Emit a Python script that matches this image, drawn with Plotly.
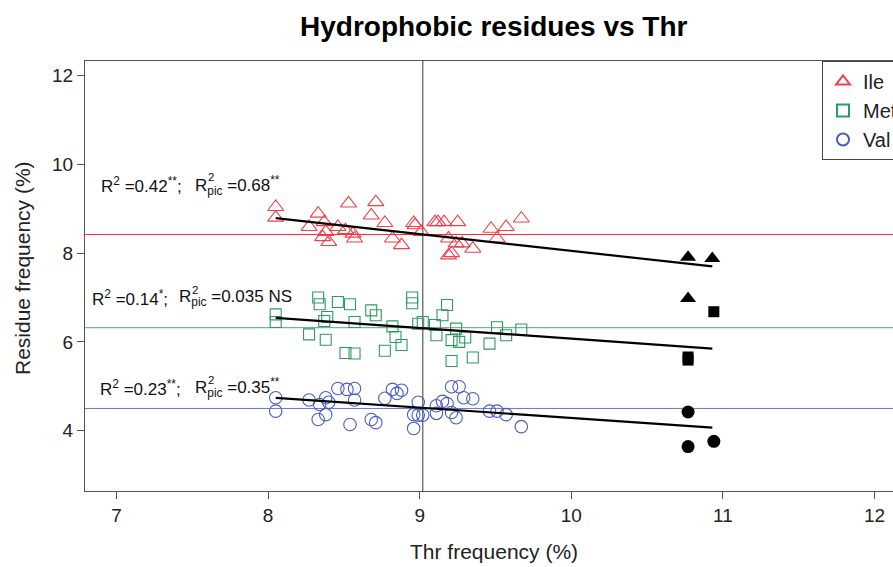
import plotly.graph_objects as go

# ---------------- data ----------------
ile_x = [8.05, 8.05, 8.33, 8.27, 8.37, 8.38, 8.40, 8.36, 8.46, 8.51, 8.53, 8.56, 8.57, 8.71, 8.68, 8.77, 8.82, 8.88,
         8.96, 8.97, 9.01, 9.10, 9.12, 9.16, 9.25, 9.19, 9.24, 9.28, 9.19, 9.21, 9.35, 9.47, 9.51, 9.57, 9.67]
ile_y = [9.04, 8.80, 8.89, 8.59, 8.70, 8.48, 8.25, 8.36, 8.59, 8.52, 9.12, 8.44, 8.33, 9.15, 8.85, 8.68, 8.33, 8.18,
         8.68, 8.63, 8.48, 8.70, 8.70, 8.70, 8.70, 8.33, 8.22, 8.22, 7.95, 8.00, 8.10, 8.55, 8.33, 8.59, 8.78]

met_x = [8.05, 8.05, 8.33, 8.34, 8.39, 8.37, 8.46, 8.54, 8.57, 8.27, 8.38, 8.51, 8.57, 8.68, 8.71, 8.82, 8.84, 8.88,
         8.77, 8.95, 8.95, 8.99, 9.02, 9.10, 9.11, 9.18, 9.15, 9.24, 9.21, 9.26, 9.30, 9.21, 9.35, 9.46, 9.51, 9.57, 9.67]
met_y = [6.62, 6.45, 7.00, 6.85, 6.56, 6.47, 6.90, 6.85, 6.45, 6.17, 6.05, 5.75, 5.74, 6.71, 6.60, 6.35, 6.11, 5.93,
         5.80, 7.00, 6.87, 6.41, 6.45, 6.38, 6.15, 6.83, 6.60, 6.30, 6.04, 6.00, 6.10, 5.57, 5.65, 5.96, 6.33, 6.15, 6.28]

val_x = [8.05, 8.05, 8.27, 8.34, 8.38, 8.40, 8.38, 8.33, 8.46, 8.52, 8.57, 8.57, 8.54, 8.68, 8.71, 8.77, 8.82, 8.85,
         8.88, 8.99, 8.96, 8.99, 9.02, 8.96, 9.11, 9.15, 9.18, 9.11, 9.21, 9.26, 9.29, 9.35, 9.21, 9.24, 9.46, 9.51,
         9.57, 9.67]
val_y = [4.74, 4.44, 4.69, 4.59, 4.74, 4.64, 4.36, 4.25, 4.95, 4.93, 4.95, 4.69, 4.14, 4.25, 4.18, 4.73, 4.93, 4.84,
         4.91, 4.64, 4.36, 4.35, 4.35, 4.05, 4.56, 4.66, 4.61, 4.39, 4.99, 4.99, 4.74, 4.72, 4.41, 4.29, 4.44, 4.44,
         4.36, 4.09]

# black (filled) points
pic_ile_x = [10.77, 10.93, 10.77]
pic_ile_y = [7.91, 7.88, 6.98]
pic_met_x = [10.94, 10.77, 10.77]
pic_met_y = [6.68, 5.66, 5.59]
pic_val_x = [10.77, 10.77, 10.94]
pic_val_y = [4.42, 3.64, 3.76]

# regression lines (end points)
fit_x = [8.05, 10.93]
ile_fit = [8.79, 7.70]
met_fit = [6.54, 5.85]
val_fit = [4.74, 4.07]

# mean lines
thr_mean = 9.02
ile_mean = 8.42
met_mean = 6.32
val_mean = 4.50

x_ticks = [7, 8, 9, 10, 11, 12]
y_ticks = [4, 6, 8, 10, 12]

# ---------------- figure ----------------
RED = "#f0404a"
GREEN = "#2e9a62"
BLUE = "#4a5cc0"
FONT = "Liberation Sans, Arial, sans-serif"

W, H = 893, 567
ML, MR, MT, MB = 85, 0, 61, 76
PW, PH = W - ML - MR, H - MT - MB

fig = go.Figure()

fig.add_trace(go.Scatter(x=ile_x, y=ile_y, mode="markers", name="Ile",
                         marker=dict(symbol="triangle-up-open", size=14, color=RED, line=dict(width=1.1))))
fig.add_trace(go.Scatter(x=met_x, y=met_y, mode="markers", name="Met",
                         marker=dict(symbol="square-open", size=11, color=GREEN, line=dict(width=1.1))))
fig.add_trace(go.Scatter(x=val_x, y=val_y, mode="markers", name="Val",
                         marker=dict(symbol="circle-open", size=12.5, color=BLUE, line=dict(width=1.1))))

fig.add_trace(go.Scatter(x=pic_ile_x, y=pic_ile_y, mode="markers", showlegend=False,
                         marker=dict(symbol="triangle-up", size=14, color="black")))
fig.add_trace(go.Scatter(x=pic_met_x, y=pic_met_y, mode="markers", showlegend=False,
                         marker=dict(symbol="square", size=11, color="black")))
fig.add_trace(go.Scatter(x=pic_val_x, y=pic_val_y, mode="markers", showlegend=False,
                         marker=dict(symbol="circle", size=13, color="black")))

for fy in (ile_fit, met_fit, val_fit):
    fig.add_trace(go.Scatter(x=fit_x, y=fy, mode="lines", showlegend=False,
                             line=dict(color="black", width=2.2)))

fig.add_hline(y=ile_mean, line=dict(color="#ff2a2a", width=1), layer="below")
fig.add_hline(y=met_mean, line=dict(color="#4fa87a", width=1), layer="below")
fig.add_hline(y=val_mean, line=dict(color="#6a78cc", width=1), layer="below")
fig.add_vline(x=thr_mean, line=dict(color="#666666", width=1.3), layer="below")

# pixel -> data helper for annotation placement
X0, PXU = 6.792, 151.6
def dx(px):
    return X0 + (px - ML) / PXU

AF = 17
ann_font = dict(family=FONT, size=AF, color="#111")
stats = [
    # (row y, left px, first part, second-R px, second part)
    (9.53, 99, "R<sup>2</sup> =0.42<sup>**</sup>;", 193, "=0.68<sup>**</sup>"),
    (6.99, 90, "R<sup>2</sup> =0.14<sup>*</sup>;", 177, "=0.035 NS"),
    (4.97, 98, "R<sup>2</sup> =0.23<sup>**</sup>;", 193, "=0.35<sup>**</sup>"),
]
for yy, lpx, t1, rpx, t2 in stats:
    fig.add_annotation(x=dx(lpx), y=yy, text=t1, showarrow=False, xanchor="left", yanchor="middle",
                       font=ann_font)
    fig.add_annotation(x=dx(rpx), y=yy, text="R<sub>pic</sub> " + t2, showarrow=False, xanchor="left",
                       yanchor="middle", font=ann_font)
    fig.add_annotation(x=dx(rpx + 12.5), y=yy + 0.18, text="2", showarrow=False, xanchor="left",
                       yanchor="middle", font=dict(family=FONT, size=11.5, color="#111"))

def px_x(px):
    return (px - ML) / PW
def px_y(py):
    return (H - MB - py) / PH

fig.add_annotation(x=px_x(494.5), y=px_y(27), xref="paper", yref="paper",
                   text="<b>Hydrophobic residues vs Thr</b>", showarrow=False,
                   font=dict(family=FONT, size=28, color="black"), xanchor="center", yanchor="middle")
fig.add_annotation(x=px_x(494.5), y=px_y(551), xref="paper", yref="paper",
                   text="Thr frequency (%)", showarrow=False, font=dict(family=FONT, size=21, color="#222"),
                   xanchor="center", yanchor="middle")
fig.add_annotation(x=px_x(22), y=px_y(268), xref="paper", yref="paper",
                   text="Residue frequency (%)", textangle=-90, showarrow=False,
                   font=dict(family=FONT, size=21, color="#222"), xanchor="center", yanchor="middle")

fig.update_layout(
    width=W, height=H,
    margin=dict(l=ML, r=MR, t=MT, b=MB, autoexpand=False),
    paper_bgcolor="white", plot_bgcolor="white",
    font=dict(family=FONT, size=18, color="#222"),
    showlegend=True,
    legend=dict(x=px_x(822), y=1.0, xanchor="left", yanchor="top",
                bordercolor="#444", borderwidth=1, bgcolor="white",
                font=dict(family=FONT, size=20, color="#222"), itemsizing="constant"),
    xaxis=dict(range=[X0, X0 + PW / PXU], tickvals=x_ticks, showgrid=False, zeroline=False,
               showline=True, linecolor="#555", linewidth=1, mirror=True,
               ticks="outside", ticklen=7, tickcolor="#555", tickfont=dict(size=19, color="#222")),
    yaxis=dict(range=[2.64, 12.33], tickvals=y_ticks, showgrid=False, zeroline=False,
               showline=True, linecolor="#555", linewidth=1, mirror=False,
               ticks="outside", ticklen=7, tickcolor="#555", tickfont=dict(size=19, color="#222")),
)

fig.write_html("out.html", config={"displayModeBar": False},
               post_script="document.body.style.margin='0';")
